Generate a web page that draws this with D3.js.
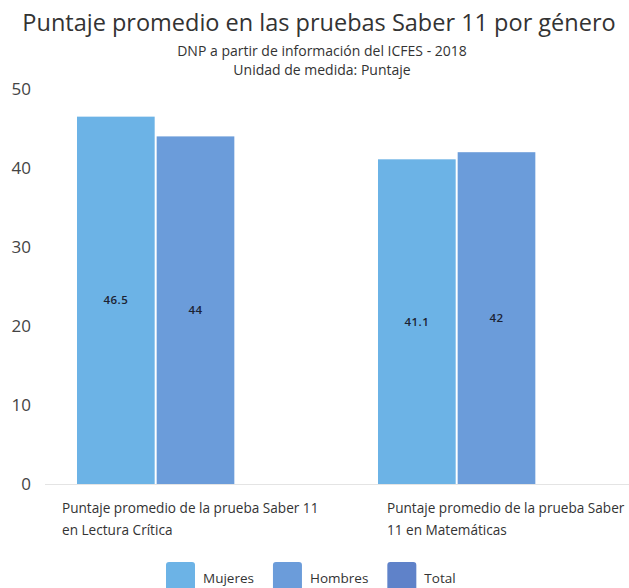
<!DOCTYPE html>
<html>
<head>
<meta charset="utf-8">
<script src="https://d3js.org/d3.v7.min.js"></script>
<style>
  body { margin: 0; background: #fff; }
  text { font-family: "Open Sans", "Noto Sans", sans-serif; }
</style>
</head>
<body>
<div id="chart"></div>
<script>
// data
var categories = [
  "Puntaje promedio de la prueba Saber 11 en Lectura Crítica",
  "Puntaje promedio de la prueba Saber 11 en Matemáticas"
];
var categoryLines = [
  ["Puntaje promedio de la prueba Saber 11", "en Lectura Crítica"],
  ["Puntaje promedio de la prueba Saber", "11 en Matemáticas"]
];
var seriesNames = ["Mujeres", "Hombres", "Total"];
var mujeres = [46.5, 41.1];
var hombres = [44, 42];
var total = [null, null];   // in the legend, no bars drawn
var yTicks = [0, 10, 20, 30, 40, 50];
var colors = ["#6cb3e6", "#6b9cda", "#5f82c9"];

var width = 629, height = 588;

var svg = d3.select("#chart").append("svg")
  .attr("width", width)
  .attr("height", height);

// titles
svg.append("text")
  .attr("x", 319).attr("y", 31)
  .attr("text-anchor", "middle")
  .style("font-size", "23.5px")
  .attr("fill", "#333")
  .text("Puntaje promedio en las pruebas Saber 11 por género");

svg.append("text")
  .attr("x", 322).attr("y", 56)
  .attr("text-anchor", "middle")
  .style("font-size", "14px")
  .attr("fill", "#333")
  .text("DNP a partir de información del ICFES - 2018");

svg.append("text")
  .attr("x", 322).attr("y", 75)
  .attr("text-anchor", "middle")
  .style("font-size", "14px")
  .attr("fill", "#333")
  .text("Unidad de medida: Puntaje");

// scales
var y = d3.scaleLinear().domain([0, 50]).range([484, 89]);

var x0 = d3.scaleBand()
  .domain(categories)
  .range([45, 647])
  .paddingInner(0.2126)
  .paddingOuter(0.1063);

var x1 = d3.scaleBand()
  .domain(seriesNames)
  .range([0, x0.bandwidth()])
  .paddingInner(0.025);

// y labels
var yAxis = svg.append("g").attr("transform", "translate(31,0)")
  .call(d3.axisLeft(y).tickValues(yTicks).tickSize(0).tickPadding(0));
yAxis.select(".domain").remove();
yAxis.selectAll("text")
  .style("font-family", "'Open Sans', sans-serif")
  .style("font-size", "17px")
  .attr("fill", "#444");

// baseline
svg.append("line")
  .attr("x1", 45).attr("x2", width)
  .attr("y1", y(0) + 0.5).attr("y2", y(0) + 0.5)
  .attr("stroke", "#e4e4e4");

// bars
var rows = categories.map(function(c, i) {
  return {cat: c, values: [
    {name: "Mujeres", v: mujeres[i]},
    {name: "Hombres", v: hombres[i]},
    {name: "Total", v: total[i]}
  ]};
});

var groups = svg.selectAll("g.grp")
  .data(rows)
  .enter().append("g")
  .attr("class", "grp")
  .attr("transform", function(d) { return "translate(" + x0(d.cat) + ",0)"; });

var bars = groups.selectAll("rect")
  .data(function(d) { return d.values.filter(function(e) { return e.v != null; }); })
  .enter();

bars.append("rect")
  .attr("x", function(d) { return x1(d.name); })
  .attr("y", function(d) { return y(d.v); })
  .attr("width", x1.bandwidth())
  .attr("height", function(d) { return y(0) - y(d.v); })
  .attr("fill", function(d) { return colors[seriesNames.indexOf(d.name)]; });

bars.append("text")
  .attr("x", function(d) { return x1(d.name) + x1.bandwidth() / 2; })
  .attr("y", function(d) { return (y(d.v) + y(0)) / 2; })
  .attr("dy", "0.35em")
  .attr("text-anchor", "middle")
  .style("font-size", "11.5px")
  .style("font-weight", "600")
  .style("letter-spacing", "0.5px")
  .attr("fill", "#1c2333")
  .text(function(d) { return d.v; });

// category labels
var labelX = [62, 387];
categories.forEach(function(c, i) {
  var t = svg.append("text")
    .attr("x", labelX[i])
    .attr("y", 513)
    .style("font-size", "13.6px")
    .attr("fill", "#333");
  categoryLines[i].forEach(function(line, j) {
    t.append("tspan")
      .attr("x", labelX[i])
      .attr("dy", j === 0 ? 0 : 22)
      .text(line);
  });
});

// legend
var lx = 166;
seriesNames.forEach(function(name, i) {
  var g = svg.append("g").attr("transform", "translate(" + lx + ",562)");
  g.append("rect")
    .attr("width", 29).attr("height", 29)
    .attr("rx", 3)
    .attr("fill", colors[i]);
  var t = g.append("text")
    .attr("x", 37).attr("y", 16)
    .attr("dy", "0.35em")
    .style("font-size", "13.5px")
    .attr("fill", "#333")
    .text(name);
  lx += 37 + t.node().getComputedTextLength() + 19;
});
</script>
</body>
</html>
